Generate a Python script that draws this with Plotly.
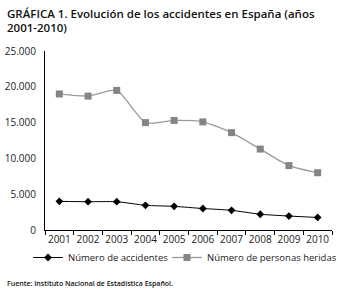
import plotly.graph_objects as go

years = ["2001", "2002", "2003", "2004", "2005", "2006", "2007", "2008", "2009", "2010"]
accidentes = [4000, 3950, 3950, 3450, 3300, 3000, 2750, 2200, 1950, 1750]
heridas = [19000, 18700, 19500, 15000, 15300, 15100, 13600, 11300, 9000, 8000]
y_ticks = [0, 5000, 10000, 15000, 20000, 25000]
y_tick_text = ["0", "5.000", "10.000", "15.000", "20.000", "25.000"]

FONT = "Open Sans, sans-serif"
W, H = 338, 293

fig = go.Figure()
fig.add_trace(go.Scatter(
    x=years, y=accidentes, name="Número de accidentes", legend="legend",
    mode="lines+markers", line=dict(color="#000000", width=1, shape="spline", smoothing=0.6),
    marker=dict(symbol="diamond", size=6, color="#000000"),
))
fig.add_trace(go.Scatter(
    x=years, y=heridas, name="Número de personas heridas", legend="legend2",
    mode="lines+markers", line=dict(color="#9a9a9a", width=1.3, shape="spline", smoothing=0.6),
    marker=dict(symbol="square", size=7, color="#858585"),
))

def cx(px):
    return px / W

def cy(py):
    return 1 - py / H

legend_common = dict(orientation="h", xref="container", yref="container",
                     xanchor="left", yanchor="top", bgcolor="rgba(0,0,0,0)",
                     font=dict(size=9.5, family=FONT, color="#222222"))

fig.update_layout(
    width=W, height=H,
    margin=dict(l=45, r=6, t=51, b=63, autoexpand=False),
    paper_bgcolor="white", plot_bgcolor="white",
    font=dict(family=FONT, size=10, color="#222222"),
    showlegend=True,
    legend=dict(legend_common, x=cx(28), y=cy(243)),
    legend2=dict(legend_common, x=cx(167), y=cy(243)),
    xaxis=dict(type="category", showline=True, linecolor="#000000", linewidth=1,
               ticks="outside", ticklen=4, tickcolor="#000000", tickson="boundaries",
               showgrid=False, zeroline=False, range=[-0.5, 9.5], tickangle=0,
               automargin=False,
               tickfont=dict(size=10, family=FONT, color="#222222")),
    yaxis=dict(range=[0, 25000], tickvals=y_ticks, ticktext=y_tick_text,
               showline=True, linecolor="#000000", linewidth=1, ticks="",
               showgrid=False, zeroline=False, ticklabelstandoff=6, automargin=False,
               tickfont=dict(size=10, family=FONT, color="#222222")),
    annotations=[
        dict(text="GRÁFICA 1. Evolución de los accidentes en España (años",
             x=cx(5), y=cy(14), xref="paper", yref="paper", showarrow=False,
             xanchor="left", yanchor="middle",
             font=dict(family="Open Sans", size=11.5, weight=600, color="#111111")),
        dict(text="2001-2010)",
             x=cx(5), y=cy(28), xref="paper", yref="paper", showarrow=False,
             xanchor="left", yanchor="middle",
             font=dict(family="Open Sans", size=11.5, weight=600, color="#111111")),
        dict(text="Fuente: Instituto Nacional de Estadística Español.",
             x=cx(5), y=cy(283), xref="paper", yref="paper", showarrow=False,
             xanchor="left", yanchor="middle",
             font=dict(family="Open Sans", size=7, weight=600, color="#111111")),
    ],
)

# annotations given in container fractions -> convert to paper coordinates
L, R, T, B = 45, 6, 51, 63
pw = W - L - R
ph = H - T - B
for a in fig.layout.annotations:
    a.x = (a.x * W - L) / pw
    a.y = (a.y * H - B) / ph

fig.write_html("out.html", config={"displayModeBar": False},
               post_script="document.body.style.margin='0';document.body.style.overflow='hidden';")
